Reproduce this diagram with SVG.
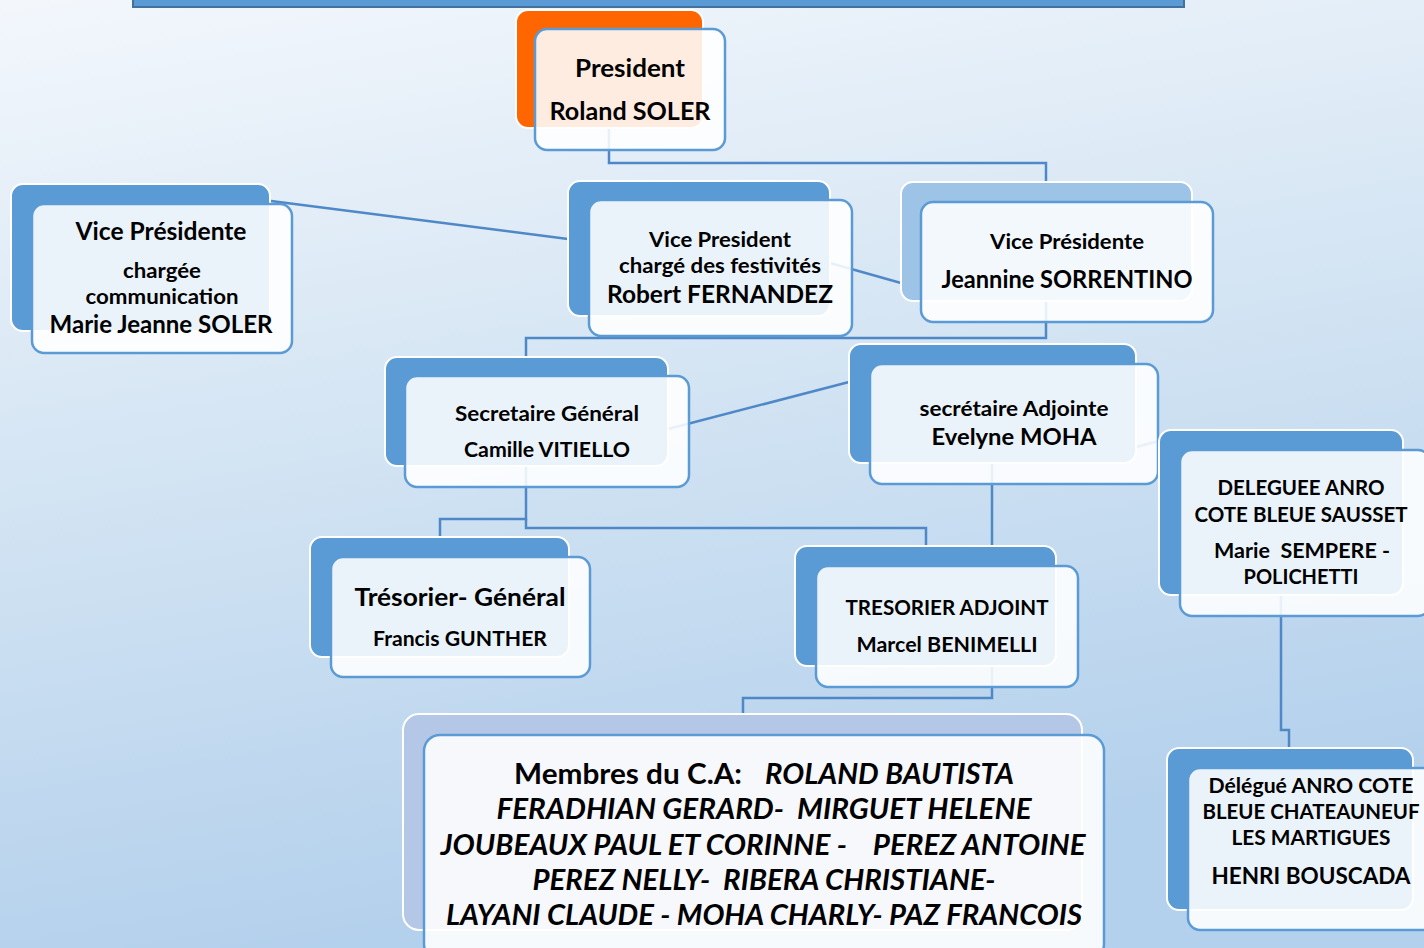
<svg xmlns="http://www.w3.org/2000/svg" width="1424" height="948" viewBox="0 0 1424 948">
<defs>
<linearGradient id="bg" x1="0" y1="0" x2="0.25" y2="1">
<stop offset="0" stop-color="#f3f7fc"/>
<stop offset="0.5" stop-color="#d3e4f3"/>
<stop offset="1" stop-color="#b3d0ec"/>
</linearGradient>
<style>
.back{fill:#5b9bd5;stroke:#ffffff;stroke-width:2}
.backL{fill:#9dc3e6;stroke:#ffffff;stroke-width:2}
.backM{fill:#b4c7e7;stroke:#ffffff;stroke-width:2}
.backO{fill:#ff6600;stroke:#ffffff;stroke-width:2}
.front{fill:#ffffff;fill-opacity:0.88;stroke:#5b9bd5;stroke-width:2.5}
.conn{fill:none;stroke:#4f88c6;stroke-width:2.5}
text{font-family:Lato,"Open Sans","Liberation Sans",sans-serif;font-weight:bold;fill:#000;text-anchor:middle}
.it{font-style:italic}
</style>
</defs>
<rect width="1424" height="948" fill="url(#bg)"/>
<rect x="133" y="-6" width="1051" height="13" fill="#5b9bd5" stroke="#41719c" stroke-width="2"/>

<g id="connectors">
<path class="conn" d="M609,128 V163 H1046 V182"/>
<path class="conn" d="M271,201 L568,239"/>
<path class="conn" d="M830,263 L901,283"/>
<path class="conn" d="M1046,301 V338 H526 V357"/>
<path class="conn" d="M668,429 L849,382"/>
<path class="conn" d="M1136,447 L1159,441"/>
<path class="conn" d="M526,466 V519 H440 V537"/>
<path class="conn" d="M526,519 V528 H926 V546"/>
<path class="conn" d="M992,463 V546"/>
<path class="conn" d="M992,666 V698 H743 V714"/>
<path class="conn" d="M1281,595 V730 H1289 V748"/>
</g>

<g id="president">
<rect class="backO" x="516" y="10" width="187" height="118" rx="12"/>
<rect class="front" x="535" y="29" width="190" height="121" rx="12"/>
<text x="630" y="77" font-size="24" textLength="110" lengthAdjust="spacingAndGlyphs">President</text>
<text x="630" y="120" font-size="24" textLength="161" lengthAdjust="spacingAndGlyphs">Roland SOLER</text>
</g>

<g id="vp-marie">
<rect class="back" x="11" y="184" width="259" height="147" rx="12"/>
<rect class="front" x="32" y="204" width="260" height="149" rx="12"/>
<text x="161" y="240" font-size="24" textLength="171" lengthAdjust="spacingAndGlyphs">Vice Présidente</text>
<text x="162" y="278" font-size="20" textLength="78" lengthAdjust="spacingAndGlyphs">chargée</text>
<text x="162" y="304" font-size="20" textLength="153" lengthAdjust="spacingAndGlyphs">communication</text>
<text x="161" y="333" font-size="24" textLength="223" lengthAdjust="spacingAndGlyphs">Marie Jeanne SOLER</text>
</g>

<g id="vp-robert">
<rect class="back" x="568" y="181" width="262" height="135" rx="12"/>
<rect class="front" x="589" y="200" width="263" height="136" rx="12"/>
<text x="720" y="247" font-size="20" textLength="142" lengthAdjust="spacingAndGlyphs">Vice President</text>
<text x="720" y="273" font-size="20" textLength="202" lengthAdjust="spacingAndGlyphs">chargé des festivités</text>
<text x="720" y="303" font-size="25" textLength="226" lengthAdjust="spacingAndGlyphs">Robert FERNANDEZ</text>
</g>

<g id="vp-jeannine">
<rect class="backL" x="901" y="182" width="291" height="119" rx="12"/>
<rect class="front" x="921" y="202" width="292" height="120" rx="12"/>
<text x="1067" y="249" font-size="21" textLength="154" lengthAdjust="spacingAndGlyphs">Vice Présidente</text>
<text x="1067" y="288" font-size="24" textLength="251" lengthAdjust="spacingAndGlyphs">Jeannine SORRENTINO</text>
</g>

<g id="secretaire">
<rect class="back" x="385" y="357" width="283" height="109" rx="12"/>
<rect class="front" x="405" y="376" width="284" height="111" rx="12"/>
<text x="547" y="421" font-size="21" textLength="184" lengthAdjust="spacingAndGlyphs">Secretaire Général</text>
<text x="547" y="457" font-size="21" textLength="166" lengthAdjust="spacingAndGlyphs">Camille VITIELLO</text>
</g>

<g id="secretaire-adjointe">
<rect class="back" x="849" y="344" width="287" height="119" rx="12"/>
<rect class="front" x="870" y="364" width="288" height="120" rx="12"/>
<text x="1014" y="416" font-size="21" textLength="189" lengthAdjust="spacingAndGlyphs">secrétaire Adjointe</text>
<text x="1014" y="445" font-size="23" textLength="165" lengthAdjust="spacingAndGlyphs">Evelyne MOHA</text>
</g>

<g id="deleguee-sausset">
<rect class="back" x="1159" y="430" width="244" height="165" rx="12"/>
<rect class="front" x="1180" y="450" width="250" height="166" rx="12"/>
<text x="1301" y="495" font-size="21" textLength="167" lengthAdjust="spacingAndGlyphs">DELEGUEE ANRO</text>
<text x="1301" y="522" font-size="21" textLength="213" lengthAdjust="spacingAndGlyphs">COTE BLEUE SAUSSET</text>
<text x="1302" y="558" font-size="21" textLength="176" lengthAdjust="spacingAndGlyphs" xml:space="preserve">Marie  SEMPERE -</text>
<text x="1301" y="584" font-size="21" textLength="115" lengthAdjust="spacingAndGlyphs">POLICHETTI</text>
</g>

<g id="tresorier">
<rect class="back" x="310" y="537" width="259" height="120" rx="12"/>
<rect class="front" x="331" y="557" width="259" height="120" rx="12"/>
<text x="460" y="606" font-size="25" textLength="211" lengthAdjust="spacingAndGlyphs">Trésorier- Général</text>
<text x="460" y="646" font-size="20" textLength="174" lengthAdjust="spacingAndGlyphs">Francis GUNTHER</text>
</g>

<g id="tresorier-adjoint">
<rect class="back" x="795" y="546" width="261" height="120" rx="12"/>
<rect class="front" x="816" y="566" width="262" height="121" rx="12"/>
<text x="947" y="615" font-size="20" textLength="203" lengthAdjust="spacingAndGlyphs">TRESORIER ADJOINT</text>
<text x="947" y="652" font-size="20" textLength="181" lengthAdjust="spacingAndGlyphs">Marcel BENIMELLI</text>
</g>

<g id="delegue-chateauneuf">
<rect class="back" x="1167" y="748" width="246" height="162" rx="12"/>
<rect class="front" x="1188" y="768" width="250" height="162" rx="12"/>
<text x="1311" y="793" font-size="21" textLength="205" lengthAdjust="spacingAndGlyphs">Délégué ANRO COTE</text>
<text x="1311" y="819" font-size="21" textLength="217" lengthAdjust="spacingAndGlyphs">BLEUE CHATEAUNEUF</text>
<text x="1311" y="845" font-size="21" textLength="159" lengthAdjust="spacingAndGlyphs">LES MARTIGUES</text>
<text x="1311" y="884" font-size="23" textLength="199" lengthAdjust="spacingAndGlyphs">HENRI BOUSCADA</text>
</g>

<g id="membres">
<rect class="backM" x="403" y="714" width="679" height="216" rx="16"/>
<rect class="front" x="424" y="735" width="680" height="225" rx="16"/>
<text x="514" y="784" font-size="28" style="text-anchor:start" textLength="228" lengthAdjust="spacingAndGlyphs">Membres du C.A:</text>
<text class="it" x="765" y="784" font-size="28" style="text-anchor:start" textLength="249" lengthAdjust="spacingAndGlyphs">ROLAND BAUTISTA</text>
<text class="it" x="764" y="819" font-size="28" textLength="535" lengthAdjust="spacingAndGlyphs" xml:space="preserve">FERADHIAN GERARD-  MIRGUET HELENE</text>
<text class="it" x="763" y="855" font-size="28" textLength="645" lengthAdjust="spacingAndGlyphs" xml:space="preserve">JOUBEAUX PAUL ET CORINNE -    PEREZ ANTOINE</text>
<text class="it" x="764" y="890" font-size="28" textLength="463" lengthAdjust="spacingAndGlyphs" xml:space="preserve">PEREZ NELLY-  RIBERA CHRISTIANE-</text>
<text class="it" x="764" y="925" font-size="28" textLength="636" lengthAdjust="spacingAndGlyphs">LAYANI CLAUDE - MOHA CHARLY- PAZ FRANCOIS</text>
</g>
</svg>
